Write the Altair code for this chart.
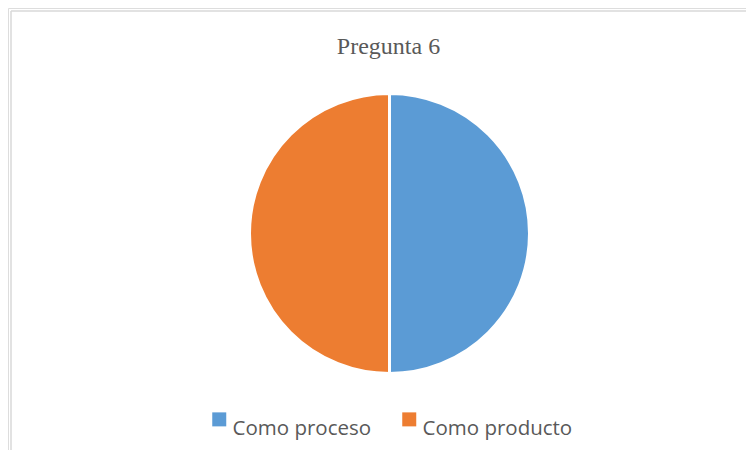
import altair as alt
import pandas as pd

categories = ["Como proceso", "Como producto"]
values = [50, 50]
colors = ["#5B9BD5", "#ED7D31"]
chart_title = "Pregunta 6"

df = pd.DataFrame({"cat": categories, "val": values, "ord": list(range(len(categories)))})
title_df = pd.DataFrame({"t": [chart_title]})

W, H = 738, 442

pie = alt.Chart(df).mark_arc(radius=140, stroke="white", strokeWidth=3).encode(
    theta=alt.Theta("val:Q", stack=True),
    order=alt.Order("ord:Q"),
    color=alt.Color(
        "cat:N",
        scale=alt.Scale(domain=categories, range=colors),
        sort=categories,
        legend=alt.Legend(
            title=None,
            orient="none",
            legendX=201,
            legendY=401,
            direction="horizontal",
            symbolType="square",
            symbolSize=196,
            symbolStrokeWidth=0,
            labelFont="Open Sans",
            labelFontSize=20.5,
            labelColor="#595959",
            labelBaseline="top",
            labelOffset=3,
            columnPadding=27,
        ),
    ),
    x=alt.value(381.5),
    y=alt.value(225.5),
)

title = alt.Chart(title_df).mark_text(
    font="Liberation Serif", fontSize=24, color="#595959", baseline="alphabetic", align="center"
).encode(text="t:N", x=alt.value(380.5), y=alt.value(46))

border_top = alt.Chart(title_df).mark_rule(color="#D9D9D9", strokeWidth=1.5).encode(
    x=alt.value(3), x2=alt.value(W + 20), y=alt.value(3)
)
border_left = alt.Chart(title_df).mark_rule(color="#D9D9D9", strokeWidth=1.5).encode(
    x=alt.value(3), y=alt.value(3), y2=alt.value(H + 20)
)

chart = alt.layer(border_top, border_left, pie, title).properties(
    width=W, height=H, autosize=alt.AutoSizeParams(type="none"), padding=0
).configure_view(stroke=None).configure(background="white")

chart.save("out.html", embed_options={"renderer": "svg", "actions": False})
